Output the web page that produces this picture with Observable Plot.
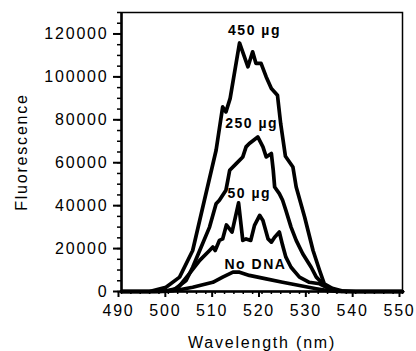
<!DOCTYPE html>
<html><head><meta charset="utf-8">
<script src="https://cdn.jsdelivr.net/npm/d3@7"></script>
<script src="https://cdn.jsdelivr.net/npm/@observablehq/plot@0.6"></script>
<style>
body{margin:0;background:#fff}
svg{font-family:"Liberation Sans",Arial,Helvetica,sans-serif}
svg text{letter-spacing:1.8px}
svg .curve-label text{letter-spacing:1.5px}
</style>
</head><body><div id="chart"></div>
<script>
// Wavelength (nm) and fluorescence for each series
const wl450 = [490, 496, 499.5, 502.4, 505.2, 507.7, 510.2, 511.6, 512.3, 513.2, 515.2, 517.0, 518.0, 518.7, 519.8, 520.9, 522.0, 523.3, 524.0, 525.0, 526.6, 527.3, 529.1, 530.9, 532.3, 533.3, 535, 537, 540, 550];
const fl450 = [0, 0, 2000, 6700, 19100, 42500, 65800, 86000, 83700, 90000, 115800, 104700, 111700, 106300, 106300, 100000, 94600, 91500, 78000, 63000, 58000, 48700, 34700, 19100, 9800, 3600, 1500, 300, 0, 0];

const wl250 = [490, 498, 501, 503.8, 505.2, 506.7, 508.8, 510.2, 510.9, 512.3, 512.7, 513.1, 514.5, 515.9, 516.6, 517.3, 519.1, 520.2, 520.9, 522.0, 522.4, 522.7, 523.7, 524.4, 525.1, 526.2, 527.3, 528.7, 530.5, 531.6, 533.0, 535, 537, 550];
const fl250 = [0, 0, 500, 5100, 11300, 19100, 30000, 40900, 42500, 47200, 51800, 56500, 59600, 62700, 67400, 69000, 72000, 67400, 62700, 64300, 56500, 48700, 45600, 42500, 37800, 30000, 23800, 17600, 11300, 6700, 3600, 1000, 0, 0];

const wl50 = [490, 499, 502, 504.5, 506.7, 508.8, 509.5, 510.0, 510.9, 511.6, 512.4, 513.6, 515.0, 515.9, 516.6, 517.6, 518.4, 519.5, 520.2, 521.3, 522.0, 522.7, 523.7, 524.4, 525.1, 526.2, 528.0, 530.1, 532.3, 533.7, 535.5, 538, 550];
const fl50 = [0, 0, 1500, 8300, 14500, 19100, 20700, 19100, 23800, 24500, 31000, 27700, 41300, 23800, 24500, 23800, 30800, 35500, 33100, 24500, 23000, 25300, 27700, 21500, 16000, 11300, 6700, 4300, 3600, 2000, 500, 0, 0];

const wlNo = [490, 497, 500, 502.4, 505.2, 506.7, 509.5, 511.6, 513.8, 515.2, 517.3, 520.9, 524.4, 528.0, 531.6, 533.7, 536, 550];
const flNo = [0, 0, 300, 800, 2000, 2800, 4300, 6700, 9000, 9000, 7500, 5900, 4300, 2800, 1300, 500, 0, 0];

const seriesNames = ["450 µg", "250 µg", "50 µg", "No DNA"];
const xTicks = [490, 500, 510, 520, 530, 540, 550];
const yTicks = [0, 20000, 40000, 60000, 80000, 100000, 120000];

const labelText = ["450 µg", "250 µg", "50 µg", "No DNA"];
const labelX = [518.4, 517.8, 517.3, 518.6];
const labelY = [121400, 78400, 45750, 12600];

const seriesWl = [wl450, wl250, wl50, wlNo];
const seriesFl = [fl450, fl250, fl50, flNo];
const rows = seriesNames.flatMap((name, k) =>
  seriesWl[k].map((w, i) => ({series: name, wl: w, fl: seriesFl[k][i]})));
const labels = labelText.map((t, i) => ({text: t, x: labelX[i], y: labelY[i]}));

const chart = Plot.plot({
  width: 416,
  height: 351,
  marginLeft: 121,
  marginRight: 14,
  marginTop: 12,
  marginBottom: 60,
  style: {fontSize: "16px", color: "black", background: "white", overflow: "visible"},
  x: {domain: [490, 550]},
  y: {domain: [0, 130000]},
  marks: [
    Plot.frame({stroke: "black", strokeWidth: 1.5}),
    Plot.axisY({ticks: d3.range(0, 130001, 5000), tickSize: 4, tickFormat: () => "", label: null, strokeWidth: 1.5}),
    Plot.axisX({ticks: d3.range(490, 551, 2), tickSize: 3, tickFormat: () => "", label: null, strokeWidth: 1.5}),
    Plot.axisY({ticks: yTicks, tickSize: 8, tickPadding: 5, tickFormat: d3.format("d"), strokeWidth: 2,
      label: "Fluorescence", labelAnchor: "center", labelArrow: false, labelOffset: 106}),
    Plot.axisX({ticks: xTicks, tickSize: 6, tickPadding: 7, tickFormat: d3.format("d"), strokeWidth: 2, dx: -3,
      label: null}),
    Plot.axisX({ticks: [], label: "Wavelength (nm)", labelAnchor: "center", labelArrow: false, labelOffset: 56}),
    Plot.ruleX([490], {strokeWidth: 2.5}),
    Plot.ruleY([0], {strokeWidth: 2.5}),
    Plot.line(rows, {x: "wl", y: "fl", z: "series", stroke: "black", strokeWidth: 3.7, strokeLinejoin: "round", strokeLinecap: "round"}),
    Plot.text(labels, {x: "x", y: "y", text: "text", fontSize: 14, fontWeight: "bold", className: "curve-label"})
  ]
});
document.getElementById("chart").append(chart);
</script>
</body></html>
